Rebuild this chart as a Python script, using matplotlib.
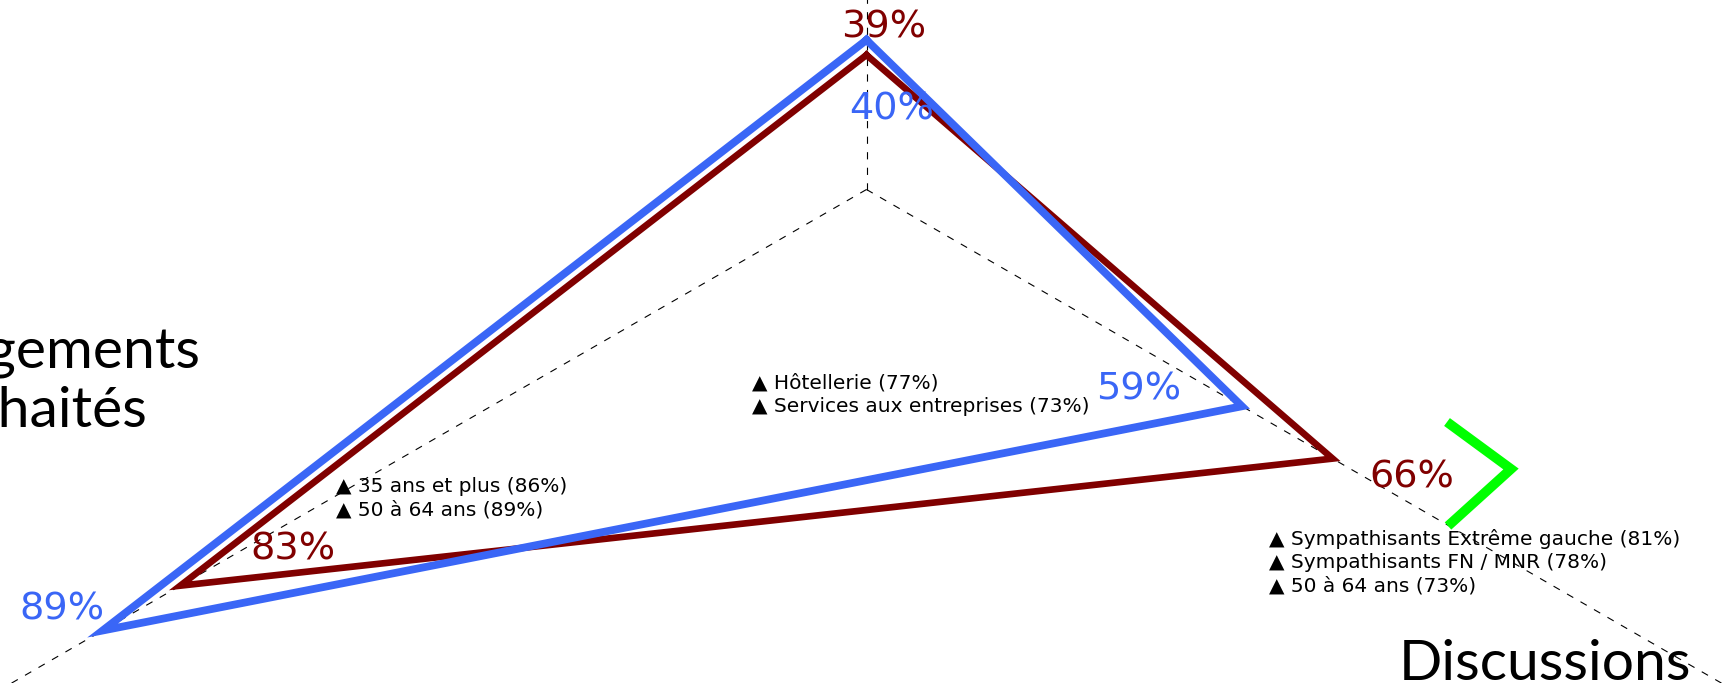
import matplotlib
matplotlib.use("Agg")
import matplotlib.pyplot as plt
from matplotlib.lines import Line2D
import numpy as np

# Radar data (3 axes: top, bottom-left, bottom-right)
categories = ["", "Changements\nsouhaités", "Discussions"]
angles_deg = [90, 210, 330]
blue_values = [40, 89, 59]
red_values = [39, 83, 66]

# Notable sub-groups written next to each axis
notes_top = ["Hôtellerie (77%)", "Services aux entreprises (73%)"]
notes_left = ["35 ans et plus (86%)", "50 à 64 ans (89%)"]
notes_right = ["Sympathisants Extrême gauche (81%)", "Sympathisants FN / MNR (78%)", "50 à 64 ans (73%)"]

BLUE = "#3a66f6"
RED = "#800000"
W, H = 1734, 683

fig = plt.figure(figsize=(W / 100, H / 100), dpi=100)
fig.patch.set_facecolor("white")

# polar axes much bigger than the figure: only the middle part is visible
cx, cy = 866.5, H - 189.5      # centre of the radar in pixels
rmin, rmax = 30, 100
px_per_unit = 14.95
R = (rmax - rmin) * px_per_unit
ax = fig.add_axes([(cx - R) / W, (cy - R) / H, 2 * R / W, 2 * R / H], projection="polar")
ax.set_ylim(rmin, rmax)
angles = np.deg2rad(angles_deg)
ax.set_xticks(angles)
ax.set_xticklabels([])
ax.set_yticks([])
ax.spines["polar"].set_visible(False)
ax.grid(axis="x", color="black", linewidth=0.8, linestyle=(0, (6.5, 7.5)))
ax.grid(axis="y", visible=False)

closed = np.append(angles, angles[0])
ax.plot(closed, red_values + red_values[:1], color=RED, lw=4.8, solid_joinstyle="miter", zorder=3)
ax.plot(closed, blue_values + blue_values[:1], color=BLUE, lw=5.6, solid_joinstyle="miter", zorder=4)

# value labels, offset from each vertex (pixels: right, up)
blue_offsets = [(25, -70), (-41, 21), (-103, 17)]
red_offsets = [(17, 27), (113, 36), (79, -19)]
for vals, offs, col in [(blue_values, blue_offsets, BLUE), (red_values, red_offsets, RED)]:
    for a, v, (dx, dy) in zip(angles, vals, offs):
        ax.annotate(f"{v}%", xy=(a, v), xytext=(dx * 0.72, dy * 0.72), textcoords="offset points",
                    ha="center", va="center", fontsize=27.5, color=col, zorder=5)

# sub-group notes
for lines, x, y in [(notes_top, 752, 395), (notes_left, 336, 498.5), (notes_right, 1269, 562.5)]:
    txt = "\n".join("▲ " + s for s in lines)
    fig.text(x / W, 1 - y / H, txt, ha="left", va="center", fontsize=14.5,
             color="black", linespacing=1.28, family="DejaVu Sans")

# axis titles
fig.text(200 / W, 1 - 382 / H, categories[1], ha="right", va="center", multialignment="center",
         fontsize=41, family="Lato", linespacing=1.2, color="black")
fig.text(1544.5 / W, 1 - 680 / H, categories[2], ha="center", va="baseline",
         fontsize=41, family="Lato", color="black")

# green chevron
chev_x = np.array([1447, 1511, 1448]) / W
chev_y = 1 - np.array([422, 469, 526]) / H
fig.add_artist(Line2D(chev_x, chev_y, transform=fig.transFigure, color="#00ff00", lw=7,
                      solid_joinstyle="miter", solid_capstyle="butt"))

fig.savefig("out.png", dpi=100)
